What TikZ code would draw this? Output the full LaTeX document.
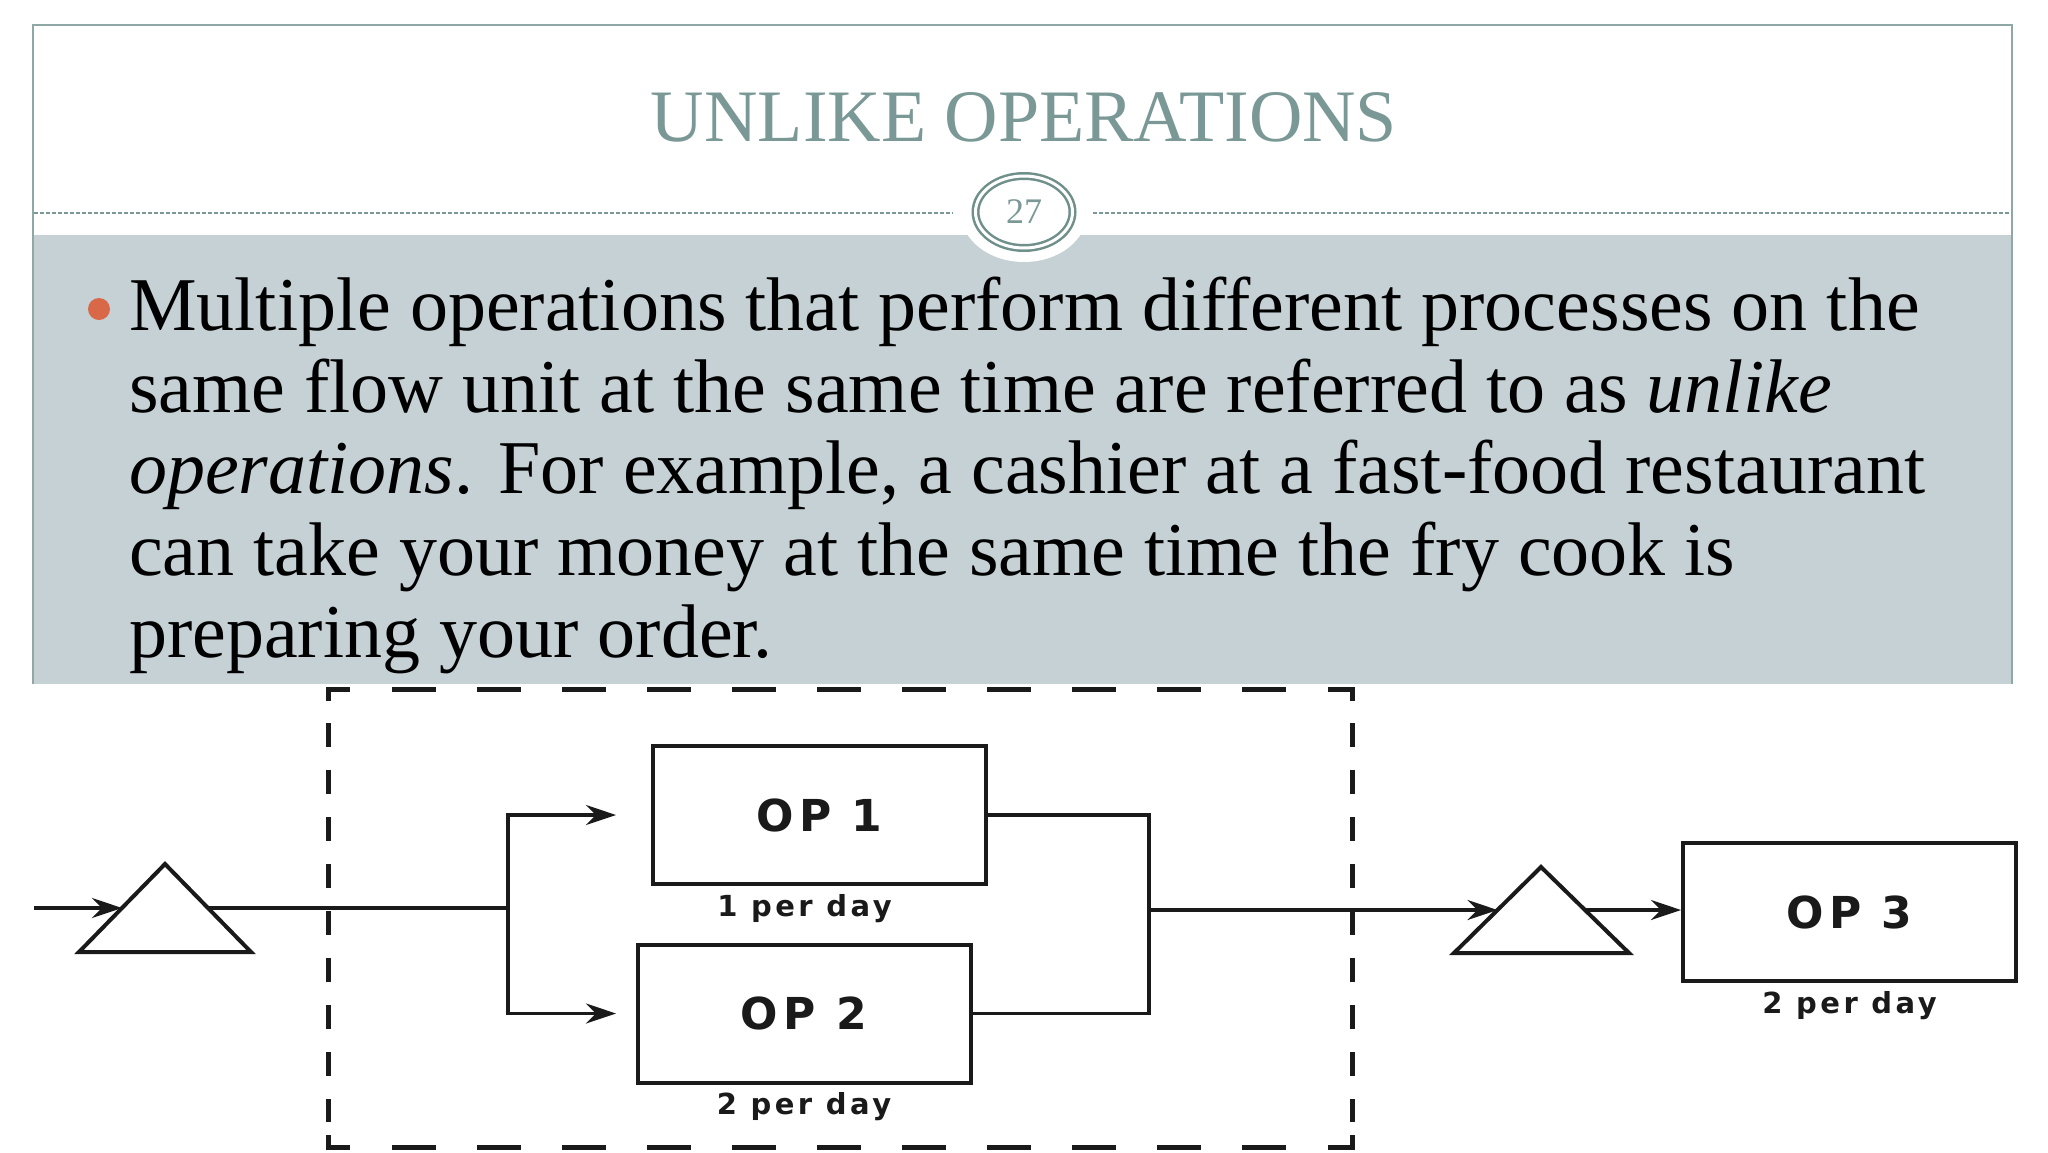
\documentclass[tikz,border=0pt]{standalone}
\usepackage{fontspec}
\setmainfont{Liberation Serif}
\newfontfamily\opfont{DejaVu Sans}[LetterSpace=12]
\usetikzlibrary{arrows.meta,calc,positioning,shapes.geometric}
\definecolor{bandgray}{HTML}{C5D1D5}
\definecolor{titleteal}{HTML}{7A9896}
\definecolor{ringteal}{HTML}{6F8F8B}
\definecolor{framegray}{HTML}{8FA7A5}
\definecolor{bulletred}{HTML}{D96848}
\definecolor{inkblack}{HTML}{1A1A1A}

\tikzset{
  body/.style={anchor=base west, inner sep=0pt, text=black, font=\fontsize{76}{82}\selectfont},
  opbox/.style={draw=inkblack, line width=4pt, minimum width=333pt, minimum height=138pt, inner sep=0pt,
    text=inkblack, font=\opfont\bfseries\fontsize{44}{44}\selectfont},
  rate/.style={inner sep=0pt, text=inkblack, font=\opfont\bfseries\fontsize{29}{29}\selectfont},
  conn/.style={draw=inkblack, line width=3.5pt},
  flow/.style={conn, -{Stealth[length=30pt,width=20pt,inset=10pt]}},
  tri/.style={draw=inkblack, line width=4pt, line join=miter},
  dashline/.style={draw=inkblack, line width=5pt, line join=miter}
}

\begin{document}
\begin{tikzpicture}[x=1pt, y=-1pt]
\useasboundingbox (0,0) rectangle (2048,1152);
\fill[white] (0,0) rectangle (2048,1152);

% slide header and text band
\fill[bandgray] (33,235) rectangle (2012,684);
\draw[framegray, line width=2pt] (33,684) -- (33,25) -- (2012,25) -- (2012,684);
\draw[titleteal, line width=1.5pt, dash pattern=on 4pt off 2pt] (34,213) -- (953,213);
\draw[titleteal, line width=1.5pt, dash pattern=on 4pt off 2pt] (1093,213) -- (2011,213);
\fill[white] (1024,213) ellipse (63 and 49);
\node (pagenum) [ellipse, draw=ringteal, line width=2.5pt, double=white, double distance=3pt,
  minimum width=97pt, minimum height=72pt, inner sep=0pt, text=titleteal,
  font=\fontsize{36}{36}\selectfont] at (1024,212) {27};
\node (title) [anchor=base, inner sep=0pt, text=titleteal, font=\fontsize{74}{74}\selectfont]
  at (1024,141) {UNLIKE OPERATIONS};

\node (dot) [circle, fill=bulletred, minimum size=22pt, inner sep=0pt] at (99,309) {};
\node (line1) [body] at (129,330) {Multiple operations that perform different processes on the};
\node (line2) [body] at (129,412) {same flow unit at the same time are referred to as \textit{unlike}};
\node (line3) [body] at (129,493) {\textit{operations}. For example, a cashier at a fast-food restaurant};
\node (line4) [body] at (129,575) {can take your money at the same time the fry cook is};
\node (line5) [body] at (129,657) {preparing your order.};

% dashed frame round the parallel operations
\draw[dashline] (328,701) -- (328,689) -- (350,689);
\draw[dashline] (1328,689) -- (1352,689) -- (1352,701);
\draw[dashline] (328,1135) -- (328,1147) -- (350,1147);
\draw[dashline] (1328,1147) -- (1352,1147) -- (1352,1135);
\draw[dashline, dash pattern=on 44pt off 41pt] (392,689) -- (1300,689);
\draw[dashline, dash pattern=on 44pt off 41pt] (392,1147) -- (1300,1147);
\draw[dashline, dash pattern=on 24pt off 23pt] (328,723) -- (328,1122);
\draw[dashline, dash pattern=on 24pt off 23pt] (1352,723) -- (1352,1122);

% operations
\node (op1) [opbox] at (819.5,815) {OP 1};
\node (op2) [opbox] at (804,1013.5) {OP 2};
\node (op3) [opbox] at (1849.5,912) {OP 3};
\node (rate1) [rate, below=8pt of op1, xshift=-15pt] {1 per day};
\node (rate2) [rate, below=8pt of op2] {2 per day};
\node (rate3) [rate, below=8pt of op3] {2 per day};

% inventories
\coordinate (t1top) at (165,864);
\coordinate (t1left) at (79,952);
\coordinate (t1right) at (251,952);
\draw[tri] (t1left) -- (t1top) -- (t1right) -- cycle;
\coordinate (t1in) at ($(t1left)!0.5!(t1top)$);
\coordinate (t1out) at ($(t1right)!0.5!(t1top)$);
\coordinate (t2top) at (1541,867);
\coordinate (t2left) at (1454,953);
\coordinate (t2right) at (1629,953);
\draw[tri] (t2left) -- (t2top) -- (t2right) -- cycle;
\coordinate (t2in) at ($(t2left)!0.5!(t2top)$);
\coordinate (t2out) at ($(t2right)!0.5!(t2top)$);

% flow
\coordinate (src) at (34,908);
\coordinate (split) at (508,908);
\coordinate (tipx) at (616,0);
\coordinate (join) at (1149,910);
\draw[flow] (src) -- (t1in);
\draw[conn] (t1out) -- (split);
\draw[flow] (split) |- (tipx |- op1.west);
\draw[flow] (split) |- (tipx |- op2.west);
\draw[conn] (op1.east) -| (join);
\draw[conn] (op2.east) -| (join);
\draw[flow] (join) -- (t2in);
\draw[flow] (t2out) -- (t2out -| op3.west);
\end{tikzpicture}
\end{document}
